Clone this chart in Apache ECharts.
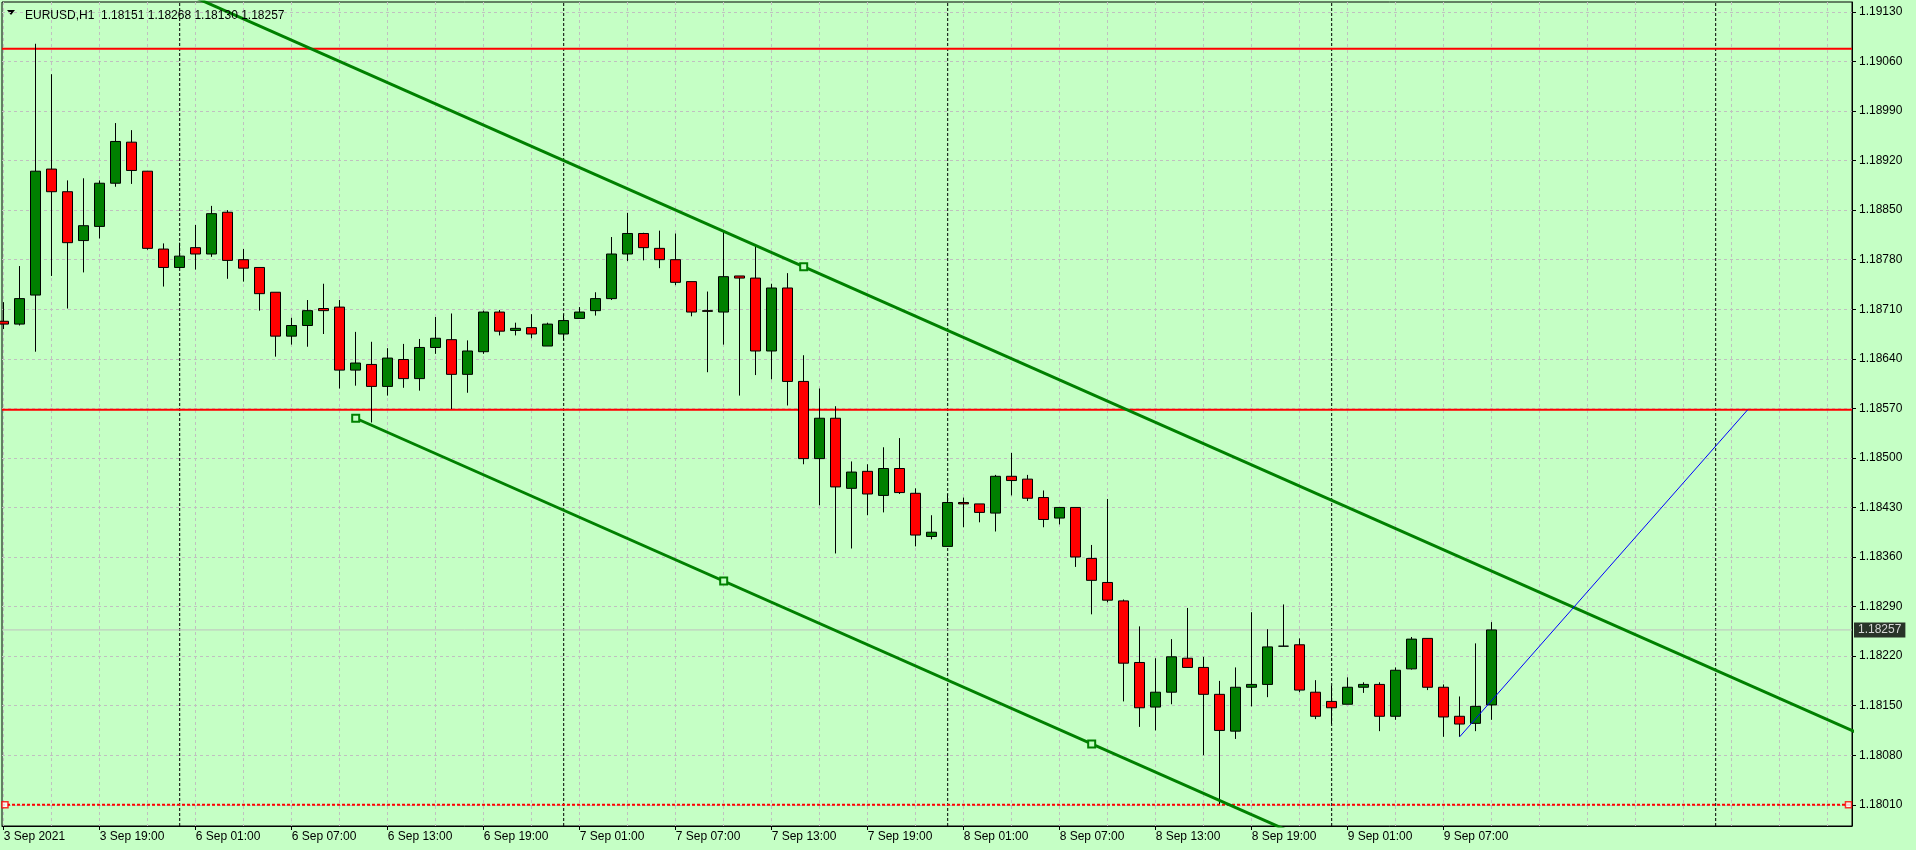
<!DOCTYPE html>
<html><head><meta charset="utf-8">
<script src="https://cdn.jsdelivr.net/npm/echarts@6/dist/echarts.min.js"></script>
<style>html,body{margin:0;padding:0;background:#c5ffc5;}#c{width:1916px;height:850px;}</style>
</head><body><div id="c"></div>
<script>
// ---- data ----
const symbolName = 'EURUSD,H1';
const xLabelBars = [0, 6, 12, 18, 24, 30, 36, 42, 48, 54, 60, 66, 72, 78, 84, 90];
const xLabels = ['3 Sep 2021', '3 Sep 19:00', '6 Sep 01:00', '6 Sep 07:00', '6 Sep 13:00', '6 Sep 19:00',
  '7 Sep 01:00', '7 Sep 07:00', '7 Sep 13:00', '7 Sep 19:00', '8 Sep 01:00', '8 Sep 07:00',
  '8 Sep 13:00', '8 Sep 19:00', '9 Sep 01:00', '9 Sep 07:00'];
const yTicks = [1.18010, 1.18080, 1.18150, 1.18220, 1.18290, 1.18360, 1.18430, 1.18500, 1.18570,
  1.18640, 1.18710, 1.18780, 1.18850, 1.18920, 1.18990, 1.19060, 1.19130];
const daySeparatorBars = [11, 35, 59, 83, 107];

const opens = [1.18693,1.18689,1.18730,1.18908,1.18876,1.18807,1.18827,1.18888,1.18946,1.18905,
  1.18795,1.18769,1.18797,1.18788,1.18847,1.18780,1.18769,1.18734,1.18672,1.18687,
  1.18711,1.18713,1.18624,1.18632,1.18601,1.18639,1.18612,1.18656,1.18667,1.18618,
  1.18650,1.18706,1.18680,1.18684,1.18658,1.18675,1.18697,1.18708,1.18725,1.18788,
  1.18817,1.18796,1.18780,1.18749,1.18708,1.18706,1.18757,1.18754,1.18651,1.18740,
  1.18608,1.18499,1.18556,1.18457,1.18481,1.18447,1.18485,1.18450,1.18389,1.18375,
  1.18437,1.18435,1.18422,1.18474,1.18470,1.18444,1.18415,1.18430,1.18358,1.18324,
  1.18298,1.18211,1.18148,1.18169,1.18217,1.18204,1.18166,1.18114,1.18176,1.18180,
  1.18234,1.18236,1.18169,1.18156,1.18152,1.18176,1.18180,1.18135,1.18202,1.18245,
  1.18176,1.18135,1.18125,1.18151];
const closes = [1.18689,1.18725,1.18905,1.18876,1.18804,1.18828,1.18888,1.18947,1.18906,1.18796,
  1.18769,1.18785,1.18788,1.18845,1.18779,1.18768,1.18732,1.18672,1.18687,1.18708,
  1.18708,1.18624,1.18634,1.18601,1.18641,1.18612,1.18656,1.18669,1.18618,1.18651,
  1.18706,1.18679,1.18683,1.18675,1.18689,1.18694,1.18706,1.18725,1.18788,1.18817,
  1.18797,1.18780,1.18748,1.18706,1.18707,1.18756,1.18754,1.18651,1.18740,1.18608,
  1.18499,1.18556,1.18459,1.18480,1.18449,1.18485,1.18451,1.18391,1.18395,1.18437,
  1.18435,1.18423,1.18474,1.18468,1.18443,1.18413,1.18430,1.18360,1.18327,1.18299,
  1.18210,1.18147,1.18169,1.18219,1.18204,1.18166,1.18115,1.18176,1.18180,1.18233,
  1.18234,1.18172,1.18135,1.18147,1.18176,1.18180,1.18135,1.18200,1.18244,1.18176,
  1.18134,1.18124,1.18149,1.18257];
const lows = [1.18682,1.18687,1.18650,1.18757,1.18711,1.18762,1.18810,1.18883,1.18887,1.18794,
  1.18742,1.18768,1.18766,1.18784,1.18753,1.18749,1.18708,1.18643,1.18660,1.18657,
  1.18675,1.18598,1.18602,1.18550,1.18588,1.18599,1.18595,1.18647,1.18569,1.18592,
  1.18647,1.18673,1.18673,1.18669,1.18658,1.18666,1.18697,1.18701,1.18723,1.18778,
  1.18779,1.18768,1.18744,1.18700,1.18621,1.18660,1.18588,1.18617,1.18611,1.18574,
  1.18491,1.18433,1.18365,1.18372,1.18419,1.18423,1.18449,1.18375,1.18385,1.18375,
  1.18402,1.18409,1.18396,1.18447,1.18439,1.18402,1.18406,1.18346,1.18279,1.18296,
  1.18156,1.18120,1.18115,1.18152,1.18204,1.18080,1.18011,1.18103,1.18149,1.18162,
  1.18234,1.18169,1.18131,1.18124,1.18152,1.18168,1.18114,1.18130,1.18201,1.18172,
  1.18106,1.18106,1.18114,1.18130];
const highs = [1.18720,1.18771,1.19085,1.19042,1.18892,1.18895,1.18892,1.18973,1.18963,1.18905,
  1.18803,1.18804,1.18829,1.18856,1.18850,1.18795,1.18769,1.18734,1.18698,1.18723,
  1.18746,1.18723,1.18678,1.18664,1.18655,1.18661,1.18668,1.18699,1.18704,1.18666,
  1.18708,1.18709,1.18691,1.18703,1.18691,1.18703,1.18713,1.18734,1.18812,1.18846,
  1.18818,1.18821,1.18817,1.18749,1.18735,1.18820,1.18757,1.18799,1.18746,1.18761,
  1.18645,1.18598,1.18573,1.18495,1.18491,1.18515,1.18528,1.18457,1.18419,1.18449,
  1.18444,1.18435,1.18476,1.18507,1.18476,1.18454,1.18430,1.18430,1.18377,1.18442,
  1.18300,1.18262,1.18217,1.18244,1.18288,1.18219,1.18185,1.18204,1.18282,1.18258,
  1.18293,1.18245,1.18186,1.18178,1.18190,1.18183,1.18183,1.18204,1.18247,1.18245,
  1.18180,1.18163,1.18238,1.18268];

const redLevels = [1.19078, 1.18568];
const dashedLevel = 1.18010;
const dashedLevelHandles = [0.08, 115.3];
const bidPrice = 1.18257;
const upperChannel = [[12, 1.19150], [116, 1.18110]];
const lowerChannel = [[22, 1.18556], [82, 1.17956]];
const channelAnchors = [[22, 1.18556], [45, 1.18326], [68, 1.18096], [50, 1.18770]];
const blueLine = [[91, 1.18106], [109, 1.18568]];
const xRange = [-0.106, 115.52];
const yRange = [1.17980, 1.19144];

// ---- chart ----
const BG = '#c5ffc5';
const GRID = '#c0c0c0';
const FONT = '"Liberation Sans", Arial, sans-serif';
const gridBars = Array.from({length: 39}, (_, i) => i * 3);
const candleData = opens.map((o, i) => [i, o, closes[i], lows[i], highs[i]]);
const last = candleData.length - 1;
const headerText = symbolName + '  ' + [opens[last], highs[last], lows[last], closes[last]].map(v => v.toFixed(5)).join(' ');

function hLine(v, style) {
  return {type: 'line', data: [[xRange[0], v], [xRange[1], v]], clip: true, symbol: 'none', silent: true, z: 1, lineStyle: style};
}
function vLine(b, style) {
  return {type: 'line', data: [[b, yRange[0]], [b, yRange[1]]], clip: true, symbol: 'none', silent: true, z: 1, lineStyle: style};
}

const series = [];
daySeparatorBars.forEach(b => series.push(vLine(b, {color: '#000', width: 1, type: [3, 2]})));
series.push(hLine(bidPrice, {color: GRID, width: 1, type: 'solid'}));
redLevels.forEach(v => series.push(hLine(v, {color: '#ff0000', width: 2, type: 'solid'})));
series.push(hLine(dashedLevel, {color: '#ff0000', width: 2, type: [3, 2]}));
series.push({type: 'scatter', data: dashedLevelHandles.map(x => [x, dashedLevel]), symbol: 'rect', symbolSize: 6,
  silent: true, clip: false, z: 3, itemStyle: {color: '#ffffff', borderColor: '#ff0000', borderWidth: 1.5}});
series.push({
  type: 'candlestick', xAxisIndex: 0, yAxisIndex: 0, z: 2,
  dimensions: ['bar', 'open', 'close', 'lowest', 'highest'],
  encode: {x: 0, y: [1, 2, 3, 4]},
  data: candleData, barWidth: 10, clip: true,
  itemStyle: {color: '#008000', color0: '#ff0000', borderColor: '#000', borderColor0: '#000', borderColorDoji: '#000', borderWidth: 1}
});
series.push({type: 'line', data: upperChannel, clip: true, symbol: 'none', silent: true, z: 3, lineStyle: {color: '#008000', width: 3}});
series.push({type: 'line', data: lowerChannel, clip: true, symbol: 'none', silent: true, z: 3, lineStyle: {color: '#008000', width: 3}});
series.push({type: 'line', data: blueLine, clip: true, symbol: 'none', silent: true, z: 3, lineStyle: {color: '#0000ff', width: 1}});
series.push({type: 'scatter', data: channelAnchors, symbol: 'rect', symbolSize: 7, silent: true, z: 4,
  itemStyle: {color: BG, borderColor: '#008000', borderWidth: 2, opacity: 1}});
// bid price tag on the axis
series.push({type: 'scatter', data: [[xRange[1], bidPrice]], symbolSize: 0, silent: true, clip: false, z: 5,
  label: {show: true, position: 'right', distance: 2, formatter: () => bidPrice.toFixed(5),
    color: '#fff', backgroundColor: '#000', padding: [2, 4, 1, 4], fontSize: 12, fontFamily: FONT}});

const chart = echarts.init(document.getElementById('c'), null, {renderer: 'canvas'});
chart.setOption({
  animation: false,
  backgroundColor: BG,
  textStyle: {fontFamily: FONT},
  title: {
    text: headerText, left: 20, top: 5,
    textStyle: {fontSize: 12, fontWeight: 'normal', color: '#000', fontFamily: FONT}
  },
  graphic: [{type: 'polygon', shape: {points: [[7, 10], [15, 10], [11, 15]]}, style: {fill: '#000'}}],
  grid: {left: 2, right: 64, top: 2, bottom: 24, show: true, borderColor: '#000', borderWidth: 1, backgroundColor: 'transparent'},
  xAxis: [{
    type: 'value', min: xRange[0], max: xRange[1], position: 'bottom',
    axisLine: {show: true, onZero: false, lineStyle: {color: '#000', width: 1}},
    axisTick: {show: true, customValues: xLabelBars, length: 4, lineStyle: {color: '#000'}},
    axisLabel: {show: true, customValues: xLabelBars, align: 'left', margin: 5, fontSize: 12, color: '#000', fontFamily: FONT,
      formatter: v => { const k = xLabelBars.indexOf(Math.round(v)); return k >= 0 ? xLabels[k] : ''; }},
    splitLine: {show: false}
  }, {
    type: 'value', min: xRange[0], max: xRange[1], position: 'top',
    axisLine: {show: false}, axisLabel: {show: false},
    axisTick: {show: false, customValues: gridBars},
    splitLine: {show: true, lineStyle: {color: GRID, width: 1, type: [3, 3]}}
  }],
  yAxis: [{
    type: 'value', min: yRange[0], max: yRange[1], position: 'right', scale: true,
    axisLine: {show: true, onZero: false, lineStyle: {color: '#000', width: 1}},
    axisTick: {show: true, customValues: yTicks, length: 4, lineStyle: {color: '#000'}},
    axisLabel: {show: true, customValues: yTicks, margin: 7, fontSize: 12, color: '#000', fontFamily: FONT,
      formatter: v => v.toFixed(5)},
    splitLine: {show: true, lineStyle: {color: GRID, width: 1, type: [3, 3]}}
  }],
  series: series
});
</script></body></html>
